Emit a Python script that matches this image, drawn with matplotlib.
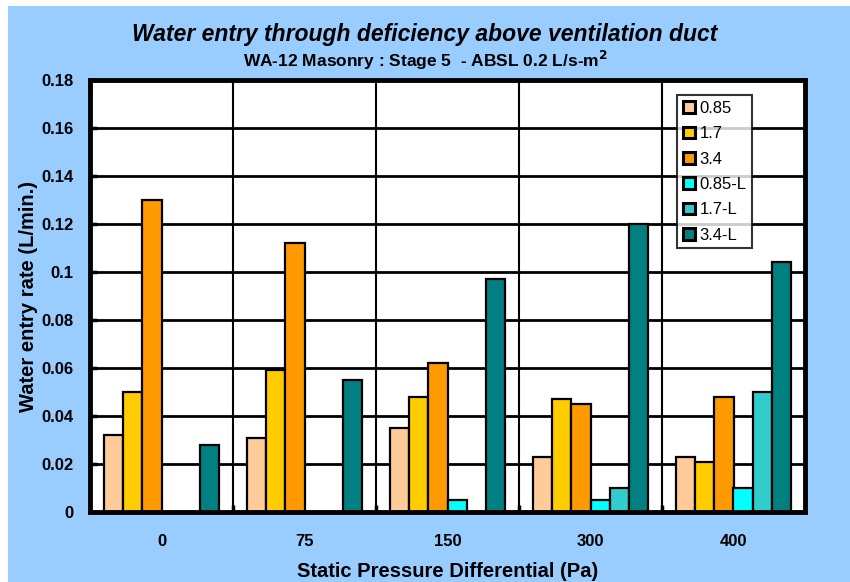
import numpy as np
import matplotlib.pyplot as plt
from matplotlib.patches import Rectangle

# chart data
categories = ["0", "75", "150", "300", "400"]
series_names = ["0.85", "1.7", "3.4", "0.85-L", "1.7-L", "3.4-L"]
s_085 = [0.032, 0.031, 0.035, 0.023, 0.023]
s_17 = [0.050, 0.059, 0.048, 0.047, 0.021]
s_34 = [0.130, 0.112, 0.062, 0.045, 0.048]
s_085L = [0.0, 0.0, 0.005, 0.005, 0.010]
s_17L = [0.0, 0.0, 0.0, 0.010, 0.050]
s_34L = [0.028, 0.055, 0.097, 0.120, 0.104]
y_ticks = [0, 0.02, 0.04, 0.06, 0.08, 0.1, 0.12, 0.14, 0.16, 0.18]
y_tick_labels = ["0", "0.02", "0.04", "0.06", "0.08", "0.1", "0.12", "0.14", "0.16", "0.18"]

colors = ["#FFCC99", "#FFCC00", "#FF9900", "#00FFFF", "#33CCCC", "#008080"]
bg = "#99CCFF"

plt.rcParams['font.family'] = ['Liberation Sans', 'DejaVu Sans']

fig = plt.figure(figsize=(8.5, 5.82), dpi=100)
fig.patch.set_facecolor("white")
fig.patches.append(Rectangle((8 / 850, 0), 1 - 8 / 850, 576 / 582,
                             transform=fig.transFigure, facecolor=bg,
                             edgecolor="none", zorder=-10))

ax = fig.add_axes([90 / 850, 70 / 582, 715 / 850, 432 / 582])
ax.set_facecolor("white")

all_series = [s_085, s_17, s_34, s_085L, s_17L, s_34L]
x = np.arange(len(categories))
w = 0.133
for i, (vals, name) in enumerate(zip(all_series, series_names)):
    offs = (i - 2.5) * w
    vals = np.array(vals)
    mask = vals > 0  # zero bars are not drawn in the original
    ax.bar(x[mask] + offs, vals[mask], w, color=colors[i], edgecolor="black",
           linewidth=1.6, label=name, zorder=3)

ax.set_xlim(-0.5, len(categories) - 0.5)
ax.set_ylim(0, 0.18)
ax.set_yticks(y_ticks)
ax.set_yticklabels(y_tick_labels, fontsize=12, fontweight="bold")
ax.set_xticks(x)
ax.set_xticklabels(categories, fontsize=12, fontweight="bold")
ax.set_xticks(np.arange(0.5, len(categories) - 0.5, 1), minor=True)
ax.tick_params(axis="x", which="major", length=0, pad=16)
ax.tick_params(axis="x", which="minor", length=5, width=2.5, direction="in")
ax.tick_params(axis="y", length=5, width=2.5, direction="in", pad=12)

# gridlines
for yv in y_ticks[1:-1]:
    ax.axhline(yv, color="black", linewidth=2, zorder=1)
for xv in np.arange(0.5, len(categories) - 0.5, 1):
    ax.axvline(xv, color="black", linewidth=1.5, zorder=1)

for sp in ax.spines.values():
    sp.set_linewidth(3.5)
    sp.set_zorder(5)

ax.set_ylabel("Water entry rate (L/min.)", fontsize=14.5, fontweight="bold", labelpad=2)
ax.set_xlabel("Static Pressure Differential (Pa)", fontsize=14.5, fontweight="bold", labelpad=9)

fig.text(0.5, 0.94, "Water entry through deficiency above ventilation duct",
         ha="center", va="center", fontsize=16.5, fontweight="bold", style="italic")
fig.text(0.5, 0.896, r"WA-12 Masonry : Stage 5  - ABSL 0.2 L/s-m$^\mathbf{2}$",
         ha="center", va="center", fontsize=12.5, fontweight="bold")

leg = ax.legend(loc="upper left", bbox_to_anchor=(0.821, 0.965), fontsize=12,
                frameon=True, fancybox=False, handlelength=0.7, handleheight=0.7,
                handletextpad=0.3, labelspacing=0.62, borderpad=0.35,
                borderaxespad=0)
leg.get_frame().set_edgecolor("black")
leg.get_frame().set_linewidth(1.5)
for h in leg.legend_handles:
    h.set_linewidth(2.2)
leg.set_zorder(6)

fig.savefig("out.png", dpi=100)
